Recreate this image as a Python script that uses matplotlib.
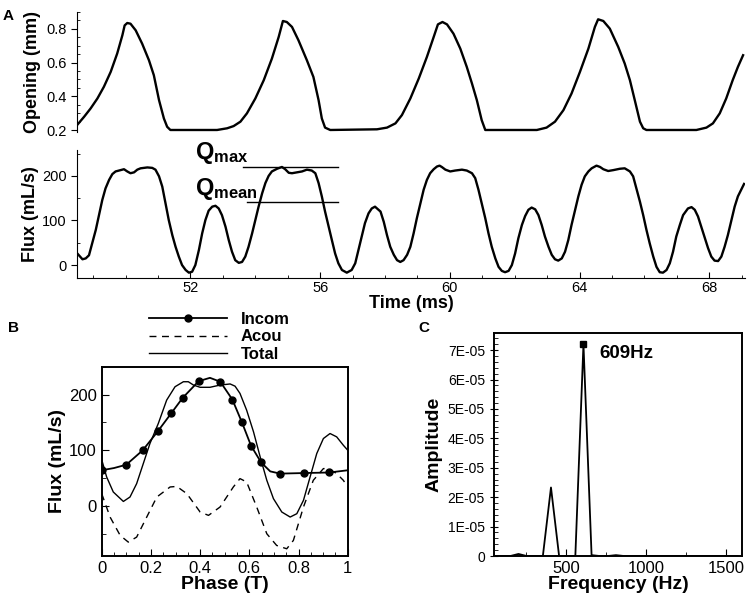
import numpy as np
import matplotlib
matplotlib.use('Agg')
import matplotlib.pyplot as plt
from matplotlib.ticker import MultipleLocator, FixedLocator

plt.rcParams['font.family'] = ['Liberation Sans', 'DejaVu Sans']
plt.rcParams['mathtext.fontset'] = 'custom'
plt.rcParams['mathtext.bf'] = 'Liberation Sans:bold'
plt.rcParams['mathtext.rm'] = 'Liberation Sans'

# --- Panel A: apertura de la válvula (mm) frente al tiempo (ms)
t_open = [48.53, 48.72, 48.92, 49.13, 49.33, 49.54, 49.74, 49.90, 49.97, 50.05, 50.15,
          50.31, 50.51, 50.72, 50.87, 51.03, 51.18, 51.28, 51.38,
          52.82, 53.13, 53.33, 53.54, 53.74, 54.00, 54.26, 54.51, 54.72, 54.85, 54.97,
          55.13, 55.33, 55.59, 55.79, 55.95, 56.05, 56.15, 56.31,
          57.75, 58.06, 58.32, 58.52, 58.78, 59.04, 59.29, 59.50, 59.63, 59.77, 59.91,
          60.11, 60.32, 60.52, 60.68, 60.83, 60.98, 61.09,
          62.68, 62.98, 63.24, 63.50, 63.75, 64.01, 64.27, 64.47, 64.57, 64.73, 64.93,
          65.19, 65.39, 65.55, 65.70, 65.86, 65.96, 66.06,
          67.60, 67.91, 68.11, 68.32, 68.52, 68.72, 68.88, 69.04]
opening = [0.237, 0.28, 0.329, 0.388, 0.457, 0.545, 0.653, 0.761, 0.819, 0.833, 0.829,
           0.79, 0.711, 0.613, 0.525, 0.378, 0.27, 0.221, 0.202,
           0.202, 0.212, 0.225, 0.251, 0.30, 0.388, 0.496, 0.623, 0.751, 0.845, 0.839,
           0.81, 0.731, 0.613, 0.515, 0.378, 0.27, 0.216, 0.202,
           0.206, 0.216, 0.241, 0.29, 0.388, 0.506, 0.633, 0.751, 0.825, 0.839, 0.825,
           0.77, 0.682, 0.574, 0.476, 0.378, 0.26, 0.202,
           0.202, 0.216, 0.251, 0.319, 0.417, 0.545, 0.682, 0.81, 0.855, 0.845, 0.80,
           0.692, 0.594, 0.496, 0.378, 0.251, 0.212, 0.202,
           0.202, 0.216, 0.241, 0.30, 0.388, 0.496, 0.574, 0.643]

# --- Panel A: caudal (mL/s) frente al tiempo (ms)
t_flux = [48.51, 48.67, 48.77, 48.87, 48.97, 49.08, 49.18, 49.28, 49.38, 49.49, 49.59,
          49.69, 49.79, 49.95, 50.05, 50.15, 50.26, 50.36, 50.46, 50.67, 50.82, 50.92,
          51.03, 51.13, 51.23, 51.33, 51.44, 51.54, 51.64, 51.74, 51.85, 51.95, 52.05,
          52.15, 52.26, 52.36, 52.46, 52.56, 52.67, 52.77, 52.87, 52.97, 53.08, 53.18,
          53.28, 53.38, 53.49, 53.59, 53.69, 53.79, 53.90, 54.00, 54.10, 54.21, 54.31,
          54.41, 54.51, 54.67, 54.82, 54.92, 55.03, 55.13, 55.28, 55.44, 55.59, 55.74,
          55.85, 55.95, 56.05, 56.15, 56.26, 56.36, 56.46, 56.56, 56.67, 56.82, 56.97,
          57.08, 57.18, 57.28, 57.38, 57.49, 57.59, 57.69,
          57.86, 57.96, 58.06, 58.16, 58.27, 58.37, 58.47, 58.57, 58.68, 58.78, 58.88,
          58.98, 59.09, 59.19, 59.29, 59.39, 59.50, 59.60, 59.68, 59.75, 59.86, 60.01,
          60.16, 60.37, 60.52, 60.68, 60.78, 60.88, 60.98, 61.09, 61.19, 61.29, 61.40,
          61.50, 61.60, 61.70, 61.81, 61.91, 62.01, 62.11, 62.22, 62.32, 62.42, 62.52,
          62.63, 62.73, 62.83, 62.93, 63.04, 63.14, 63.24, 63.34, 63.45, 63.55, 63.65,
          63.75, 63.86, 63.96, 64.06, 64.16, 64.27, 64.37, 64.52, 64.63, 64.73, 64.88,
          65.04, 65.24, 65.39, 65.55, 65.65, 65.75, 65.86, 65.96, 66.06, 66.16, 66.27,
          66.37, 66.47, 66.57, 66.68, 66.78, 66.88, 66.98, 67.09, 67.19, 67.34, 67.45,
          67.55, 67.65, 67.75, 67.86, 67.96, 68.06, 68.16, 68.27, 68.37, 68.47, 68.57,
          68.68, 68.78, 68.88, 69.00, 69.07]
flux = [26, 13, 15, 22, 49, 79, 112, 146, 172, 191, 204,
        210, 212, 215, 210, 206, 208, 214, 217, 219, 218, 214,
        199, 176, 139, 101, 67, 41, 19, 0, -11, -17, -15,
        0, 34, 71, 101, 122, 131, 133, 127, 112, 86, 56,
        30, 11, 5, 7, 19, 41, 71, 101, 131, 161, 184,
        200, 210, 216, 220, 215, 207, 206, 208, 210, 214, 212,
        206, 184, 154, 120, 86, 56, 26, 4, -11, -17, -11,
        4, 34, 64, 94, 116, 127, 131,
        120, 97, 67, 41, 23, 11, 7, 11, 23, 41, 71,
        105, 139, 169, 191, 206, 215, 221, 223, 220, 214, 210,
        212, 214, 212, 206, 195, 169, 139, 105, 71, 41, 15,
        -4, -13, -16, -13, 0, 26, 60, 90, 110, 124, 129,
        125, 112, 90, 64, 41, 23, 13, 10, 15, 30, 56,
        90, 124, 154, 180, 199, 210, 217, 223, 220, 215, 211,
        213, 216, 217, 210, 199, 172, 142, 112, 79, 49, 19,
        -4, -16, -17, -11, 4, 30, 64, 90, 112, 127, 130,
        124, 109, 86, 60, 38, 19, 10, 9, 19, 41, 67,
        101, 131, 154, 172, 182]

# Niveles Qmax y Qmean
q_max = 221
q_mean = 141
t_qmax = [53.62, 56.54]
t_qmean = [53.74, 56.54]

# --- Panel B: caudal en una fase
phase_incom = [0, 0.05, 0.1, 0.167, 0.228, 0.282, 0.329, 0.394, 0.44, 0.482, 0.531,
               0.57, 0.607, 0.648, 0.685, 0.725, 0.822, 0.925, 1.0]
flux_incom = [64, 68, 74, 100, 134, 166, 194, 224, 230, 223, 191,
              150, 108, 78, 62, 58, 59, 60, 64]
marcas_incom = [0, 2, 3, 4, 5, 6, 7, 9, 10, 11, 12, 13, 15, 16, 17]

phase_acou = [0, 0.034, 0.075, 0.108, 0.142, 0.183, 0.224, 0.278, 0.305, 0.346, 0.4,
              0.434, 0.481, 0.535, 0.562, 0.589, 0.63, 0.671, 0.711, 0.752, 0.779,
              0.82, 0.86, 0.901, 0.922, 0.955, 0.982, 1.0]
flux_acou = [22, -20, -53, -65, -56, -20, 16, 34, 35, 22, -11,
             -17, -2, 34, 49, 43, -2, -50, -71, -77, -62,
             -2, 46, 67, 67, 58, 46, 34]

phase_total = [0, 0.02, 0.047, 0.088, 0.115, 0.142, 0.169, 0.196, 0.23, 0.264, 0.298,
               0.332, 0.352, 0.373, 0.4, 0.44, 0.481, 0.522, 0.542, 0.562, 0.589,
               0.617, 0.644, 0.671, 0.698, 0.732, 0.766, 0.793, 0.82, 0.847, 0.874,
               0.901, 0.928, 0.955, 0.982, 1.0]
flux_total = [83, 52, 25, 8, 16, 40, 76, 112, 148, 190, 214,
              223, 223, 217, 213, 213, 217, 219, 215, 202, 172,
              133, 88, 46, 13, -11, -20, -14, 10, 52, 94,
              121, 130, 124, 109, 100]

# --- Panel C: espectro
freq = [50.75, 101.5, 152.25, 203.0, 253.75, 304.5, 355.25, 406.0, 456.75, 507.5,
        558.25, 609.0, 659.75, 710.5, 761.25, 812.0, 862.75, 913.5, 964.25, 1015.0,
        1065.75, 1116.5, 1167.25, 1218.0, 1268.75, 1319.5, 1370.25, 1421.0, 1471.75,
        1522.5, 1573.25]
amp = [0, 0, 0, 0.07e-5, 0, 0, 0, 2.33e-5, 0, 0,
       0, 7.2e-5, 0.03e-5, 0, 0, 0.03e-5, 0, 0, 0, 0,
       0, 0, 0, 0, 0, 0, 0, 0, 0, 0, 0]
pico = 11

fig = plt.figure(figsize=(7.54, 5.98), dpi=100)

# Apertura
ax1 = fig.add_axes([0.1021, 0.7798, 0.886, 0.2007])
ax1.plot(t_open, opening, color='black', lw=1.7)
ax1.set_xlim(48.5, 69.1)
ax1.set_ylim(0.192, 0.9)
for s in ['top', 'right', 'bottom']:
    ax1.spines[s].set_visible(False)
ax1.set_xticks([])
ax1.yaxis.set_major_locator(FixedLocator([0.2, 0.4, 0.6, 0.8]))
ax1.yaxis.set_minor_locator(MultipleLocator(0.05))
ax1.tick_params(axis='y', which='major', direction='out', length=4, labelsize=10.5)
ax1.tick_params(axis='y', which='minor', direction='in', length=2.5)
ax1.set_ylabel('Opening (mm)', fontsize=13, fontweight='bold', labelpad=4)

# Caudal
ax2 = fig.add_axes([0.1021, 0.5351, 0.886, 0.2140])
ax2.plot(t_flux, flux, color='black', lw=1.7)
ax2.plot(t_qmax, [q_max, q_max], color='black', lw=1)
ax2.plot(t_qmean, [q_mean, q_mean], color='black', lw=1)
ax2.text(52.15, 238, r'$\mathbf{Q_{max}}$', fontsize=17, va='baseline', clip_on=False)
ax2.text(52.15, 157, r'$\mathbf{Q_{mean}}$', fontsize=17, va='baseline', clip_on=False)
ax2.set_xlim(48.5, 69.1)
ax2.set_ylim(-29, 258)
for s in ['top', 'right']:
    ax2.spines[s].set_visible(False)
ax2.xaxis.set_major_locator(FixedLocator([52, 56, 60, 64, 68]))
ax2.xaxis.set_minor_locator(MultipleLocator(1))
ax2.yaxis.set_major_locator(FixedLocator([0, 100, 200]))
ax2.yaxis.set_minor_locator(MultipleLocator(50))
ax2.tick_params(axis='x', which='major', direction='in', length=4, labelsize=10.5, pad=2)
ax2.tick_params(axis='x', which='minor', direction='in', length=2.5)
ax2.tick_params(axis='y', which='major', direction='out', length=4, labelsize=10.5)
ax2.tick_params(axis='y', which='minor', direction='in', length=2.5)
ax2.set_xlabel('Time (ms)', fontsize=13, fontweight='bold', labelpad=0)
ax2.set_ylabel('Flux (mL/s)', fontsize=13, fontweight='bold', labelpad=2)

# Panel B
ax3 = fig.add_axes([0.1349, 0.0702, 0.3263, 0.3166])
ax3.plot(phase_incom, flux_incom, color='black', lw=1.3, marker='o', ms=5,
         markevery=marcas_incom, label='Incom')
ax3.plot(phase_acou, flux_acou, color='black', lw=1.0, ls=(0, (5, 4)), label='Acou')
ax3.plot(phase_total, flux_total, color='black', lw=1.0, label='Total')
ax3.set_xlim(0, 1)
ax3.set_ylim(-90, 250)
ax3.xaxis.set_major_locator(MultipleLocator(0.2))
ax3.xaxis.set_minor_locator(MultipleLocator(0.05))
ax3.yaxis.set_major_locator(FixedLocator([0, 100, 200]))
ax3.yaxis.set_minor_locator(MultipleLocator(50))
ax3.xaxis.set_major_formatter(plt.FuncFormatter(lambda v, p: '%g' % round(v, 2)))
ax3.tick_params(which='both', direction='in')
ax3.tick_params(which='major', length=5, labelsize=12)
ax3.tick_params(which='minor', length=3)
for s in ax3.spines.values():
    s.set_linewidth(1.4)
ax3.set_xlabel('Phase (T)', fontsize=14, fontweight='bold', labelpad=0)
ax3.set_ylabel('Flux (mL/s)', fontsize=14, fontweight='bold', labelpad=2)
leg = ax3.legend(loc='center', bbox_to_anchor=(0.477, 1.157), frameon=False,
                 handlelength=4.7, handletextpad=0.8, labelspacing=0.15,
                 prop={'weight': 'bold', 'size': 12})

# Panel C
ax4 = fig.add_axes([0.6552, 0.0702, 0.3289, 0.3724])
ax4.plot(freq, amp, color='black', lw=1.3, marker='s', ms=5, markevery=[pico])
ax4.text(freq[pico] + 99, amp[pico] - 0.33e-5, '609Hz', fontsize=13.5, fontweight='bold',
         va='center')
ax4.set_xlim(50, 1600)
ax4.set_ylim(0, 7.57e-5)
ax4.xaxis.set_major_locator(FixedLocator([500, 1000, 1500]))
ax4.xaxis.set_minor_locator(MultipleLocator(250))
ax4.yaxis.set_major_locator(MultipleLocator(1e-5))
ax4.yaxis.set_minor_locator(MultipleLocator(0.2e-5))
ax4.yaxis.set_major_formatter(plt.FuncFormatter(
    lambda v, p: '0' if abs(v) < 1e-12 else '%.0E' % v))
ax4.tick_params(axis='x', which='both', direction='in')
ax4.tick_params(axis='x', which='major', length=5, labelsize=12)
ax4.tick_params(axis='x', which='minor', length=3)
ax4.tick_params(axis='y', which='major', direction='inout', length=6, labelsize=10)
ax4.tick_params(axis='y', which='minor', direction='in', length=3)
for s in ax4.spines.values():
    s.set_linewidth(1.4)
ax4.set_xlabel('Frequency (Hz)', fontsize=14, fontweight='bold', labelpad=0)
ax4.set_ylabel('Amplitude', fontsize=14, fontweight='bold', labelpad=4)

# Letras de los paneles
fig.text(0.004, 0.985, 'A', fontsize=11, fontweight='bold', va='top')
fig.text(0.010, 0.464, 'B', fontsize=11, fontweight='bold', va='top')
fig.text(0.555, 0.464, 'C', fontsize=11, fontweight='bold', va='top')

fig.savefig('out.png', dpi=100)
